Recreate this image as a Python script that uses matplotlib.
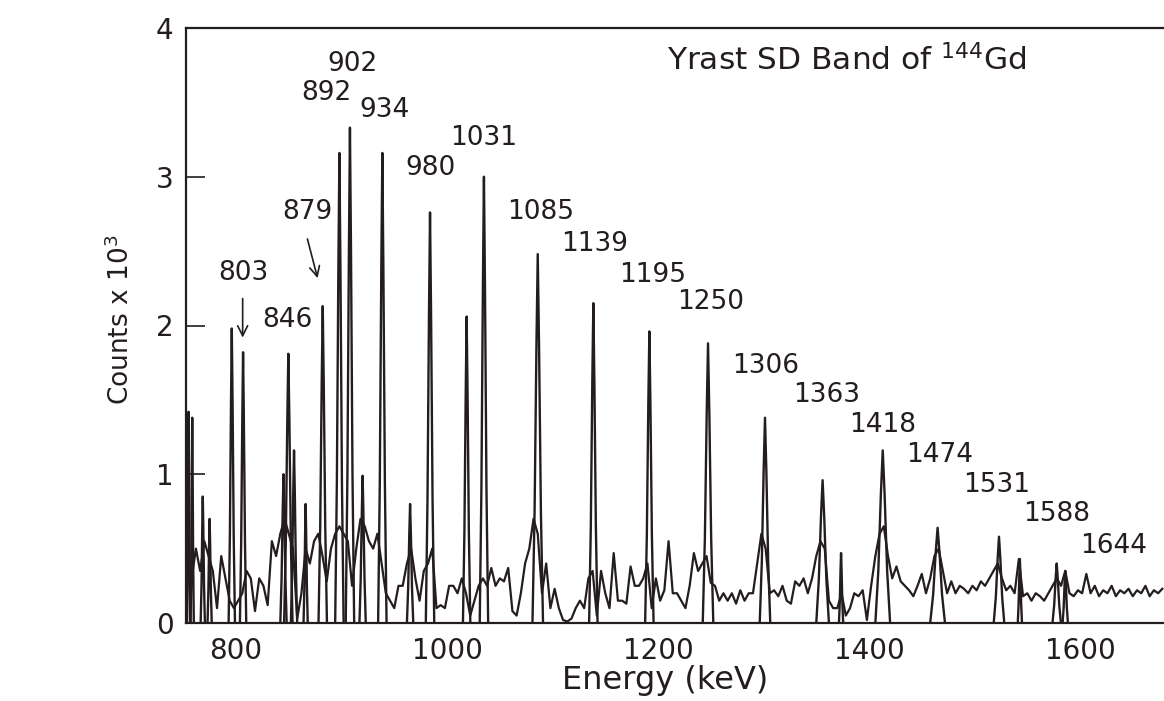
import matplotlib
matplotlib.use('Agg')
import matplotlib.pyplot as plt
import numpy as np

plt.rcParams.update({
    'font.family': 'DejaVu Sans',
    'axes.linewidth': 1.6,
})

ink = '#231c20'

# background counts, 4 keV steps starting at 754 keV
bg_start = 754
bg_counts = [
    400,
    300, 500, 350, 550, 450, 350, 100, 450, 300, 150, 100, 150, 200, 350, 300, 80, 300, 250, 120, 550, 450, 600, 700, 600, 500,
    30, 200, 500, 400, 550, 600, 450, 280, 500, 600, 650, 600, 550, 250, 500, 700, 650, 550, 500, 600, 400, 200, 150, 100, 250,
    250, 400, 500, 300, 150, 350, 400, 500, 100, 120, 100, 250, 250, 200, 300, 200, 50, 150, 250, 300, 250, 370, 250, 300, 280,
    370, 80, 50, 200, 400, 500, 700, 600, 200, 400, 100, 230, 100, 20, 10, 30, 100, 150, 100, 300, 350, 50, 350, 200, 100,
    470, 150, 150, 130, 380, 250, 250, 300, 400, 100, 300, 150, 220, 550, 200, 200, 150, 100, 250, 470, 350, 400, 450, 270, 250,
    150, 200, 150, 200, 130, 220, 150, 200, 200, 400, 600, 500, 200, 220, 180, 250, 150, 130, 280, 250, 300, 200, 300, 450, 550,
    500, 150, 100, 100, 200, 50, 100, 200, 180, 220, 20, 250, 450, 600, 650, 450, 300, 380, 280, 250, 220, 180, 250, 330, 200,
    300, 450, 500, 350, 200, 280, 200, 250, 230, 200, 250, 220, 280, 250, 300, 350, 400, 300, 220, 250, 200, 430, 180, 200, 150,
    200, 180, 150, 200, 250, 300, 250, 350, 200, 180, 220, 200, 330, 200, 250, 180, 220, 200, 250, 180, 220, 200, 230, 180, 220,
    200, 250, 180, 220, 200, 230,
]

# peaks: energy (keV), counts, half base width (keV)
peak_energy = [755, 758.5, 768.5, 775, 796, 806.7, 845, 849.6, 855, 866, 882.2, 898, 908, 920,
               938.7, 965, 983.9, 1018.6, 1035, 1086, 1138.7, 1191.8, 1247.4, 1301.4, 1356,
               1373.5, 1413, 1465, 1523.2, 1543, 1577.9, 1586]
peak_counts = [1420, 1380, 850, 700, 1980, 1820, 1000, 1810, 1160, 800, 2130, 3160, 3330, 990,
               3160, 800, 2760, 2060, 3000, 2480, 2150, 1960, 1880, 1380, 960,
               470, 1160, 640, 580, 430, 400, 350]
peak_width = [1.5, 1.5, 2, 2, 3, 3, 3, 4, 3, 2, 4, 4, 4, 3,
              4, 3, 4, 3.5, 4, 5, 4, 4, 5, 5, 6,
              2, 7, 7, 5, 2, 4, 2.5]

# band transitions labelled in the figure
line_labels = ['803', '846', '879', '892', '902', '934', '980', '1031', '1085', '1139',
               '1195', '1250', '1306', '1363', '1418', '1474', '1531', '1588', '1644']
label_x = [806.6, 848.3, 867.3, 885.3, 910, 940.3, 984.8, 1035, 1089.1, 1140.3,
           1195.3, 1250.2, 1302.3, 1360.2, 1413.2, 1467.3, 1521.3, 1578.2, 1632.2]
label_y = [2.35, 2.04, 2.76, 3.56, 3.76, 3.45, 3.06, 3.26, 2.76, 2.55,
           2.34, 2.16, 1.73, 1.53, 1.33, 1.13, 0.93, 0.73, 0.52]

fig = plt.figure(figsize=(11.64, 7.01), dpi=100)
ax = fig.add_axes([186 / 1164, 78 / 701, 1 - 186 / 1164, 595 / 701])

bg_e = bg_start + 4 * np.arange(len(bg_counts))
ax.plot(bg_e, np.array(bg_counts) / 1000, color=ink, lw=1.6)

shape_dx = np.array([-1, -0.6, -0.25, 0, 0.25, 0.6, 1])
shape_fy = np.array([0, 0.3, 0.75, 1, 0.75, 0.3, 0])
for e, c, w in zip(peak_energy, peak_counts, peak_width):
    ax.plot(e + w * shape_dx, c / 1000 * shape_fy, color=ink, lw=1.7)

for t, x, y in zip(line_labels, label_x, label_y):
    ax.text(x, y, t, ha='center', va='center', fontsize=19, color=ink)

ax.annotate('', xy=(806.3, 1.90), xytext=(806.3, 2.20),
            arrowprops=dict(arrowstyle='->', color=ink, lw=1.2, mutation_scale=18))
ax.annotate('', xy=(878, 2.30), xytext=(867, 2.60),
            arrowprops=dict(arrowstyle='->', color=ink, lw=1.2, mutation_scale=18))

ax.text(1208.5, 3.785, r'Yrast SD Band of $^{144}$Gd', ha='left', va='center',
        fontsize=22.5, color=ink)

ax.set_xlim(752.6, 1679.6)
ax.set_ylim(0, 4)
ax.set_xticks([800, 1000, 1200, 1400, 1600])
ax.set_yticks([0, 1, 2, 3, 4])
ax.tick_params(axis='x', length=0, pad=10, labelsize=20, labelcolor=ink)
ax.tick_params(axis='y', direction='in', length=14, width=1.2, pad=9, labelsize=20,
               labelcolor=ink, color=ink)
ax.spines['right'].set_visible(False)
for s in ['left', 'top', 'bottom']:
    ax.spines[s].set_color(ink)

ax.set_xlabel('Energy (keV)', fontsize=23, color=ink)
ax.xaxis.set_label_coords(0.49, -0.070)
ax.set_ylabel(r'Counts x 10$^3$', fontsize=19, color=ink)
ax.yaxis.set_label_coords(-0.052, 0.509)

plt.savefig('out.png', dpi=100)
